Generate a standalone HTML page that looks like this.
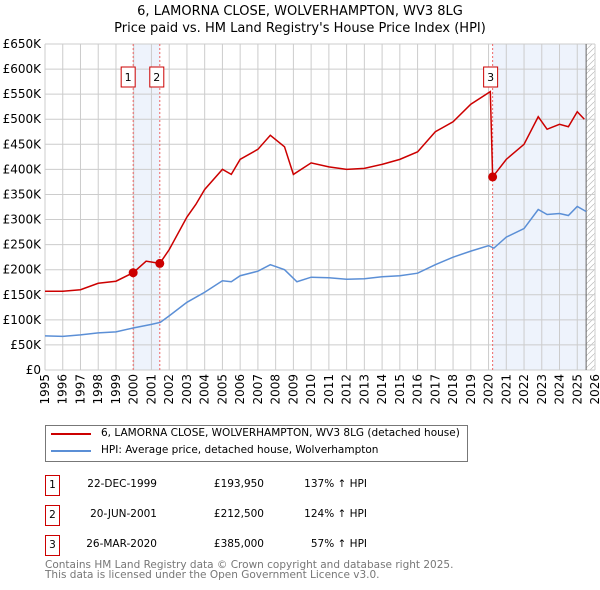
<!DOCTYPE html>
<html><head><meta charset="utf-8"><style>
body{margin:0;width:600px;height:590px;background:#fff;font-family:"DejaVu Sans","Liberation Sans",sans-serif;overflow:hidden;position:relative}
.t{position:absolute;font-size:10.5px;color:#000;white-space:nowrap}
.box{position:absolute;border:1px solid #c00;width:15px;height:21px;font-size:10.5px;text-align:center;line-height:19px;box-sizing:border-box}
</style></head><body>
<div class="t" style="left:0;width:600px;text-align:center;top:3px;font-size:13px;line-height:17px">6, LAMORNA CLOSE, WOLVERHAMPTON, WV3 8LG<br>Price paid vs. HM Land Registry's House Price Index (HPI)</div>
<svg id="c" width="600" height="420" style="position:absolute;left:0;top:0"></svg>
<div style="position:absolute;left:45px;top:425px;width:423px;height:37px;border:1px solid #777;box-sizing:border-box">
<div style="position:absolute;left:5px;top:7px;width:40px;height:2px;background:#c00"></div>
<div class="t" style="left:55px;top:1px">6, LAMORNA CLOSE, WOLVERHAMPTON, WV3 8LG (detached house)</div>
<div style="position:absolute;left:5px;top:24px;width:40px;height:2px;background:#5b8fd6"></div>
<div class="t" style="left:55px;top:18px">HPI: Average price, detached house, Wolverhampton</div>
</div>
<div id="tbl"></div>
<div class="t" style="left:45px;top:560px;color:#777;line-height:10px">Contains HM Land Registry data © Crown copyright and database right 2025.<br>This data is licensed under the Open Government Licence v3.0.</div>
<script>
const hpiYears=[1995,1996,1997,1998,1999,2000,2001,2001.5,2002,2003,2004,2005,2005.5,2006,2007,2007.7,2008.5,2009.2,2010,2011,2012,2013,2014,2015,2016,2017,2018,2019,2020,2020.3,2021,2022,2022.8,2023.3,2024,2024.5,2025,2025.5];
const hpiValues=[68,67,70,74,76,84,91,95,108,135,155,178,176,188,197,210,200,176,185,184,181,182,186,188,193,210,225,237,248,243,265,282,320,310,312,308,326,316];
const redYears=[1995,1996,1997,1998,1999,1999.97,2000.7,2001.47,2002,2003,2003.5,2004,2005,2005.5,2006,2007,2007.7,2008.5,2009,2010,2011,2012,2013,2014,2015,2016,2017,2018,2019,2020.1,2020.23,2021,2022,2022.8,2023.3,2024,2024.5,2025,2025.4];
const redValues=[157,157,160,173,177,194,217,212.5,240,305,330,360,400,390,420,440,468,445,390,413,405,400,402,410,420,435,475,495,530,555,385,420,450,505,480,490,485,515,500];
const yTicks=[0,50,100,150,200,250,300,350,400,450,500,550,600,650];
const xTicks=[1995,1996,1997,1998,1999,2000,2001,2002,2003,2004,2005,2006,2007,2008,2009,2010,2011,2012,2013,2014,2015,2016,2017,2018,2019,2020,2021,2022,2023,2024,2025,2026];
const saleYears=[1999.97,2001.47,2020.23];
const saleValues=[193.95,212.5,385];
const saleLabels=["1","2","3"];
const saleDates=["22-DEC-1999","20-JUN-2001","26-MAR-2020"];
const salePrices=["£193,950","£212,500","£385,000"];
const salePct=["137% ↑ HPI","124% ↑ HPI","57% ↑ HPI"];
const X=y=>45+(y-1995)*550/31, Y=v=>370-v*326/650;
const NS="http://www.w3.org/2000/svg", svg=document.getElementById('c');
function el(t,a){const e=document.createElementNS(NS,t);for(const k in a)e.setAttribute(k,a[k]);svg.appendChild(e);return e;}
let d=el('defs',{});d.innerHTML='<pattern id="h" width="6" height="6" patternUnits="userSpaceOnUse"><path d="M0,6L6,0" stroke="#bbb" stroke-width="0.7"/></pattern>';
let b=el('rect',{x:X(saleYears[0]),y:44,width:X(saleYears[1])-X(saleYears[0]),height:326,fill:'#eef3fc'});

b=el('rect',{x:X(saleYears[2]),y:44,width:X(2025.5)-X(saleYears[2]),height:326,fill:'#eef3fc'});

b=el('rect',{x:X(2025.5),y:44,width:X(2026)-X(2025.5),height:326,fill:'url(#h)'});

yTicks.forEach(v=>{let l=el('line',{x1:45,x2:595,y1:Y(v),y2:Y(v),stroke:'#ccc'});
let t=el('text',{x:41,y:Y(v)+4,'text-anchor':'end','font-size':12});t.textContent=v?'£'+v+'K':'£0';});
xTicks.forEach(y=>{let l=el('line',{x1:X(y),x2:X(y),y1:44,y2:370,stroke:'#ccc'});
let t=el('text',{transform:`translate(${X(y)+4},374) rotate(-90)`,'text-anchor':'end','font-size':12});t.textContent=y;});
let bl=el('line',{x1:X(2025.5),x2:X(2025.5),y1:44,y2:370,stroke:'#666'});
saleYears.forEach((s,i)=>{let l=el('line',{x1:X(s),x2:X(s),y1:44,y2:370,stroke:'#e66','stroke-dasharray':'2,2'});});
let p=el('polyline',{points:hpiYears.map((y,i)=>X(y)+','+Y(hpiValues[i])).join(' '),fill:'none',stroke:'#5b8fd6','stroke-width':1.5});

p=el('polyline',{points:redYears.map((y,i)=>X(y)+','+Y(redValues[i])).join(' '),fill:'none',stroke:'#c00','stroke-width':1.5});

saleYears.forEach((s,i)=>{let c=el('circle',{cx:X(s),cy:Y(saleValues[i]),r:4.5,fill:'#c00'});
let r=el('rect',{x:X(s)-(i==0?12:i==1?10:9),y:67,width:14,height:20,fill:'#fff',stroke:'#c00'});

let t=el('text',{x:+r.getAttribute('x')+7,y:81,'text-anchor':'middle','font-size':11});t.textContent=saleLabels[i];});
const tbl=document.getElementById('tbl');
saleYears.forEach((s,i)=>{const top=475+i*30;
tbl.insertAdjacentHTML('beforeend',`<div class="box" style="left:45px;top:${top}px">${saleLabels[i]}</div>
<div class="t" style="right:443px;top:${top+3}px">${saleDates[i]}</div>
<div class="t" style="right:336px;top:${top+3}px">${salePrices[i]}</div>
<div class="t" style="right:233px;top:${top+3}px">${salePct[i]}</div>`);});
</script>
</body></html>
